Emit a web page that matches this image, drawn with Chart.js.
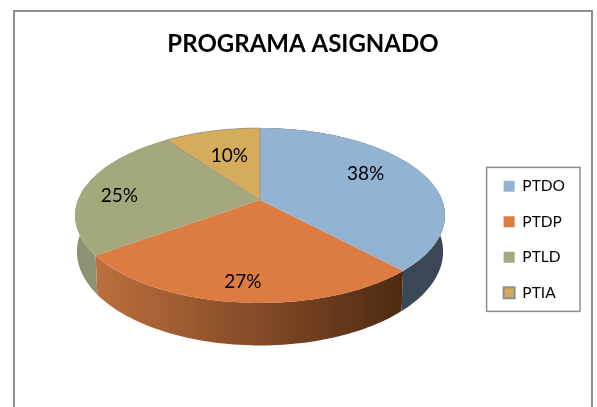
<!DOCTYPE html>
<html>
<head>
<meta charset="utf-8">
<title>Programa asignado</title>
<script src="https://cdn.jsdelivr.net/npm/chart.js@4"></script>
<style>
  html, body { margin: 0; background: #fff; }
  #wrap { position: relative; width: 597px; height: 407px; overflow: hidden; }
  #frame { position: absolute; left: 13px; top: 10px; width: 576px; height: 420px; border: 2px solid #8e8e8e; }
  canvas { position: absolute; left: 0; top: 0; }
</style>
</head>
<body>
<div id="wrap">
  <div id="frame"></div>
  <canvas id="myChart" width="597" height="407"></canvas>
</div>
<script>
const categories = ["PTDO", "PTDP", "PTLD", "PTIA"];
const values = [38, 27, 25, 10];
const topColors = ["#93b3d3", "#dc7b42", "#a3a87d", "#d5ad5a"];
const sideColors = ["#3a4757", ["#bd6f3d", "#4f2a12"], "#8c9373", "#a88745"];
const edgeWidths = [0, 0, 0, 2];

// the pie lies tilted, so the apex is not the middle of the ellipse
const view = { cx: 260, radius: 182, apexY: 200, tilt: 49.3, persp: -0.177, depth: 35 };

function project(theta, f) {
  const u = f * Math.sin(theta);
  const v = -f * Math.cos(theta);
  const w = 1 + view.persp * v;
  return { x: view.cx + view.radius * u / w, y: (view.apexY + view.tilt * v) / w, w };
}

function rim(ctx, from, to, lower) {
  const steps = Math.max(4, Math.ceil((to - from) * 40));
  for (let s = 0; s <= steps; s++) {
    const i = lower ? steps - s : s;
    const p = project(from + (to - from) * i / steps, 1);
    if (lower) ctx.lineTo(view.cx + (p.x - view.cx) * 0.99, p.y + view.depth / p.w);
    else ctx.lineTo(p.x, p.y);
  }
}

const tiltedPie = {
  id: "tiltedPie",
  beforeDatasetDraw(chart, args, opts) {
    const ctx = chart.ctx;
    const arcs = chart.getDatasetMeta(0).data;
    const theta = (a) => a + Math.PI / 2;

    arcs.forEach((arc, i) => {
      const a = theta(arc.startAngle), b = theta(arc.endAngle);
      let fill = sideColors[i];
      if (Array.isArray(fill)) {
        const p1 = project(a, 1), p2 = project(b, 1);
        const g = ctx.createLinearGradient(p2.x, 0, p1.x, 0);
        g.addColorStop(0, fill[0]);
        g.addColorStop(1, fill[1]);
        fill = g;
      }
      ctx.beginPath();
      rim(ctx, a, b, false);
      rim(ctx, a, b, true);
      ctx.closePath();
      ctx.fillStyle = fill;
      ctx.fill();
    });

    arcs.forEach((arc, i) => {
      const a = theta(arc.startAngle), b = theta(arc.endAngle);
      ctx.beginPath();
      ctx.moveTo(view.cx, view.apexY);
      rim(ctx, a, b, false);
      ctx.closePath();
      ctx.fillStyle = arc.options.backgroundColor;
      ctx.fill();
      if (arc.options.borderWidth) {
        ctx.strokeStyle = "rgba(142,142,142,0.7)";
        ctx.lineWidth = arc.options.borderWidth / 2;
        ctx.stroke();
      }
    });

    ctx.save();
    ctx.fillStyle = "#000";
    ctx.font = "19px Lato";
    ctx.textAlign = "center";
    ctx.textBaseline = "middle";
    const total = values.reduce((s, v) => s + v, 0);
    arcs.forEach((arc, i) => {
      const mid = theta((arc.startAngle + arc.endAngle) / 2);
      const p = project(mid, opts.labelRadius[i]);
      ctx.fillText(Math.round(values[i] / total * 100) + "%", p.x, p.y + opts.labelShift[i]);
    });
    ctx.restore();
    return false;
  },
  afterDraw(chart) {
    // box around the legend rows
    const ctx = chart.ctx, hits = chart.legend.legendHitBoxes;
    const first = hits[0], last = hits[hits.length - 1];
    const left = Math.min(...hits.map(h => h.left)) - 17;
    const right = Math.max(...hits.map(h => h.left + h.width)) + 15;
    ctx.save();
    ctx.strokeStyle = "#8e8e8e";
    ctx.lineWidth = 1.5;
    ctx.strokeRect(left, first.top - 11, right - left, last.top + last.height + 11 - (first.top - 11));
    ctx.restore();
  }
};

new Chart(document.getElementById("myChart"), {
  type: "pie",
  data: {
    labels: categories,
    datasets: [{
      data: values,
      backgroundColor: topColors,
      borderColor: "#8e8e8e",
      borderWidth: edgeWidths
    }]
  },
  plugins: [tiltedPie],
  options: {
    responsive: false,
    animation: false,
    layout: { padding: { top: 30, right: 22, bottom: 48, left: 31 } },
    plugins: {
      tiltedPie: { labelRadius: [0.65, 0.85, 0.8, 0.6], labelShift: [-7, -2, 6, 0] },
      title: {
        display: true,
        text: "PROGRAMA ASIGNADO",
        color: "#000",
        font: { family: "Lato", size: 24, weight: "bold" },
        padding: { top: 0, bottom: 61 }
      },
      legend: {
        position: "right",
        fullSize: false,
        labels: {
          color: "#000",
          font: { family: "Lato", size: 15.5 },
          boxWidth: 11,
          boxHeight: 11,
          padding: 20
        }
      },
      tooltip: { enabled: false }
    }
  }
});
</script>
</body>
</html>
